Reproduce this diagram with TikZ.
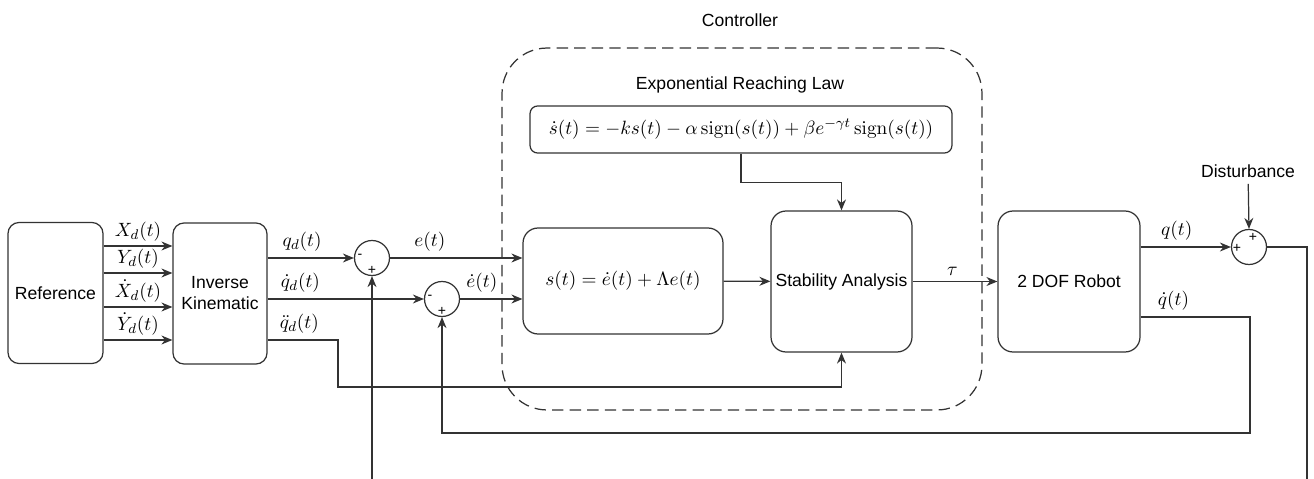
\documentclass[tikz,border=0pt]{standalone}
\usepackage{amsmath}
\usepackage[no-math]{fontspec}
\setmainfont{Liberation Sans}
\usetikzlibrary{arrows.meta,positioning}

\begin{document}
\begin{tikzpicture}[x=0.02cm, y=-0.02cm, line width=0.7pt, draw=black!80,
  >={Stealth[length=2.2mm,width=1.8mm]},
  every node/.style={font=\fontsize{10}{12}\selectfont},
  mth/.style={font=\fontsize{11.3}{13}\selectfont},
  blk/.style={draw,rounded corners=0.3cm,align=center,minimum width=2.82cm,minimum height=2.82cm,inner sep=2pt},
  sumc/.style={draw,circle,minimum size=0.7cm,inner sep=0pt},
  sgn/.style={font=\fontsize{8}{9}\selectfont,inner sep=0pt}]
\useasboundingbox (0,0) rectangle (1314,479);
% controller frame
\node[draw,dashed,dash pattern=on 6.5pt off 3.5pt,rounded corners=0.9cm,minimum width=9.6cm,minimum height=7.24cm] (ctrl) at (742,229) {};
\node (ctrlt) at (740,20) {Controller};
\node (erl) at (740,85) {Exponential Reaching Law};
% blocks
\node[blk,minimum width=1.9cm,rounded corners=0.22cm] (ref) at (55.5,293) {Reference};
\node[blk,minimum width=1.88cm,rounded corners=0.22cm] (ik) at (220,293.5) {Inverse\\Kinematic};
\node[blk,mth,minimum width=4cm,minimum height=2.12cm] (sfun) at (623,281) {$s(t)=\dot e(t)+\Lambda e(t)$};
\node[blk] (stab) at (841.5,281.5) {Stability Analysis};
\node[blk,minimum width=2.84cm] (robot) at (1069,281.5) {2 DOF Robot};
\node[draw,mth,rounded corners=0.15cm,minimum width=8.44cm,minimum height=0.94cm,inner sep=1pt] (law) at (741,129.5)
  {$\dot s(t)=-ks(t)-\alpha\operatorname{sign}(s(t))+\beta e^{-\gamma t}\operatorname{sign}(s(t))$};
% summing junctions
\node[sumc] (s1) at (372,258) {};
\node[sumc] (s2) at (442,299) {};
\node[sumc] (s3) at (1249,247) {};
\node[sgn] at (360,256) {-};
\node[sgn] at (372,270) {+};
\node[sgn] at (430,297) {-};
\node[sgn] at (442,311) {+};
\node[sgn] at (1237,248) {+};
\node[sgn] at (1253,237) {+};
\node (dist) at (1248,171) {Disturbance};
\coordinate (inp) at (372,479);
\coordinate (outp) at (1307,479);
\coordinate (fb) at (1250,433);
\coordinate (acc) at (338,387);
% connectors
\foreach \yy/\txt in {246/{X_d(t)},273/{Y_d(t)},307/{\dot X_d(t)},340/{\dot Y_d(t)}}
  \draw[->] (ref.east |- 0,\yy) -- node[mth,above=-1pt] {$\txt$} (ik.west |- 0,\yy);
\draw[->] (ik.east |- s1) -- node[mth,above,pos=0.4] {$q_d(t)$} (s1.west);
\draw[->] (ik.east |- s2) -- node[mth,above,pos=0.21] {$\dot q_d(t)$} (s2.west);
\draw[->] (ik.east |- 0,340) -- node[mth,above,pos=0.45] {$\ddot q_d(t)$} (acc |- 0,340) -- (acc) -| (stab.south);
\draw[->] (s1.east) -- node[mth,above,pos=0.3] {$e(t)$} (sfun.west |- s1);
\draw[->] (s2.east) -- node[mth,above,pos=0.35] {$\dot e(t)$} (sfun.west |- s2);
\draw[->] (sfun) -- (stab);
\draw[->] (law.south) -- ++(0,29) -| (stab.north);
\draw[->] (stab) -- node[mth,above,pos=0.47] {$\tau$} (robot);
\draw[->] (robot.east |- s3) -- node[mth,above,pos=0.4] {$q(t)$} (s3.west);
\draw[->] (dist) -- (s3.north);
\draw (s3.east) -| (outp);
\draw[->] (robot.east |- 0,317) -- node[mth,above,pos=0.3] {$\dot q(t)$} (fb |- 0,317) -- (fb) -| (s2.south);
\draw[->] (inp) -- (s1.south);
\end{tikzpicture}
\end{document}
